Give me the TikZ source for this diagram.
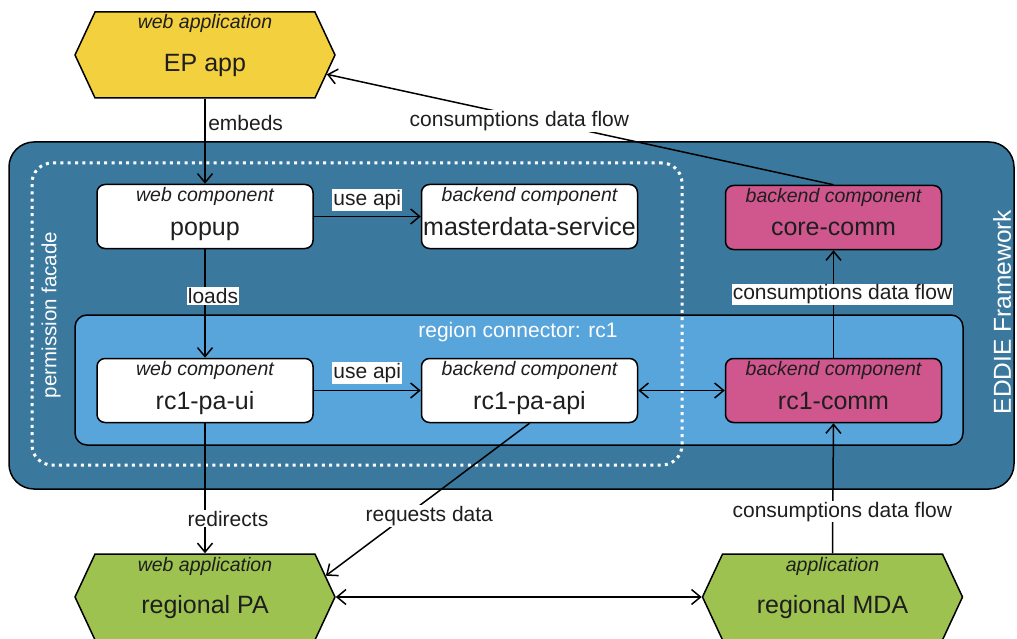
\documentclass[tikz,border=0pt]{standalone}
\usepackage{fontspec}
\setmainfont{Liberation Sans}
\usetikzlibrary{arrows.meta,shapes.symbols,calc}

\definecolor{eddieblue}{RGB}{59,120,157}
\definecolor{rcblue}{RGB}{88,165,220}
\definecolor{compink}{RGB}{208,87,142}
\definecolor{appgreen}{RGB}{157,194,79}
\definecolor{appyellow}{RGB}{243,208,62}
\definecolor{inktext}{RGB}{30,30,30}

% component box: rounded rectangle with an italic kind line and a title
\newcommand\compbox[6]{%
  \node[comp, fill=#4] (#1) at (#2,#3) {};
  \node[captxt, anchor=base] (#1-cap) at ([yshift=15pt]#1.center) {#5};
  \node[titletxt, anchor=base] (#1-title) at ([yshift=-18.5pt]#1.center) {#6};}

% application: hexagon with an italic kind line and a title
\newcommand\appnode[6]{%
  \node[hexshape, fill=#4] (#1) at (#2,#3) {};
  \node[captxt, anchor=base] (#1-cap) at ([yshift=26pt]#1.center) {#5};
  \node[titletxt, anchor=base] (#1-title) at ([yshift=-16.5pt]#1.center) {#6};}

\begin{document}
\begin{tikzpicture}[x=1pt,y=-1pt,
  line width=1.5pt,
  comp/.style={draw=black, rounded corners=8pt, minimum width=216pt,
    minimum height=64pt, inner sep=0pt},
  hexshape/.style={draw=black, signal, signal to=west and east,
    signal pointer angle=130, minimum width=260pt, minimum height=86pt,
    inner sep=0pt},
  captxt/.style={inner sep=0pt, text=inktext,
    font=\fontsize{19.5}{23}\selectfont\itshape},
  titletxt/.style={inner sep=0pt, text=inktext,
    font=\fontsize{25}{30}\selectfont},
  lbl/.style={fill=white, inner sep=1pt, text=inktext,
    font=\fontsize{21}{25}\selectfont},
  arr/.style={-{Straight Barb[length=9pt,width=15pt]}},
  darr/.style={{Straight Barb[length=9pt,width=15pt]}-{Straight Barb[length=9pt,width=15pt]}},
]
\useasboundingbox (0,0) rectangle (1017,639);

% containers
\node[draw=black, fill=eddieblue, rounded corners=25pt,
  minimum width=1005pt, minimum height=347pt] (eddie) at (511.5,315.5) {};
\node[rotate=90, text=white, font=\fontsize{24.5}{28}\selectfont]
  (eddie-title) at (1002,312) {EDDIE Framework};

\node[draw=black, fill=rcblue, rounded corners=12pt,
  minimum width=888pt, minimum height=130pt] (rc) at (519,380) {};
\node[text=white, font=\fontsize{21}{25}\selectfont]
  (rc-title) at (518,332) {region connector: rc1};

\node[draw=white, line width=3pt, dash pattern=on 3pt off 4.3pt,
  rounded corners=20pt, minimum width=650pt, minimum height=302pt]
  (facade) at (357,314) {};
\node[rotate=90, text=white, font=\fontsize{20.5}{24}\selectfont]
  (facade-title) at (51,315) {permission facade};

% components
\compbox{popup}{205}{216.5}{white}{web component}{popup}
\compbox{master}{529.5}{216.5}{white}{backend component}{masterdata-service}
\compbox{corecomm}{833.5}{217.5}{compink}{backend component}{core-comm}
\compbox{rcui}{205}{390.5}{white}{web component}{rc1-pa-ui}
\compbox{rcapi}{529.5}{390.5}{white}{backend component}{rc1-pa-api}
\compbox{rccomm}{833.5}{390.5}{compink}{backend component}{rc1-comm}

% applications
\appnode{ep}{205}{55}{appyellow}{web application}{EP app}
\appnode{pa}{205}{597}{appgreen}{web application}{regional PA}
\appnode{mda}{832.5}{597}{appgreen}{application}{regional MDA}

% connectors
\draw[arr] (ep.south) -- node[lbl, fill=none, anchor=west, pos=0.28, xshift=1.5pt] {embeds} (popup.north);
\draw[arr] (popup.east) -- node[lbl, pos=0.5, yshift=16.5pt] {use api} (master.west);
\draw[arr] (popup.south) -- node[lbl, pos=0.43, xshift=8pt] {loads} (rcui.north);
\draw[arr] (rcui.east) -- node[lbl, pos=0.5, yshift=17.5pt] {use api} (rcapi.west);
\draw[darr] (rcapi.east) -- (rccomm.west);
\draw[arr] (rccomm.north) -- node[lbl, pos=0.59, xshift=9pt] {consumptions data flow} (corecomm.south);
\draw[arr] (corecomm.north) -- node[lbl, pos=0.62, yshift=-5pt] {consumptions data flow} (ep.-9);
\draw[arr] (rcui.south) -- node[lbl, pos=0.733, xshift=23pt] {redirects} (pa.north);
\draw[arr] (rcapi.south) -- node[lbl, pos=0.61, xshift=24pt] {requests data} (pa.10);
\draw[arr] (mda.north) -- node[lbl, pos=0.32, xshift=9.5pt] {consumptions data flow} (rccomm.south);
\draw[darr] (pa.east) -- (mda.west);
\end{tikzpicture}
\end{document}
